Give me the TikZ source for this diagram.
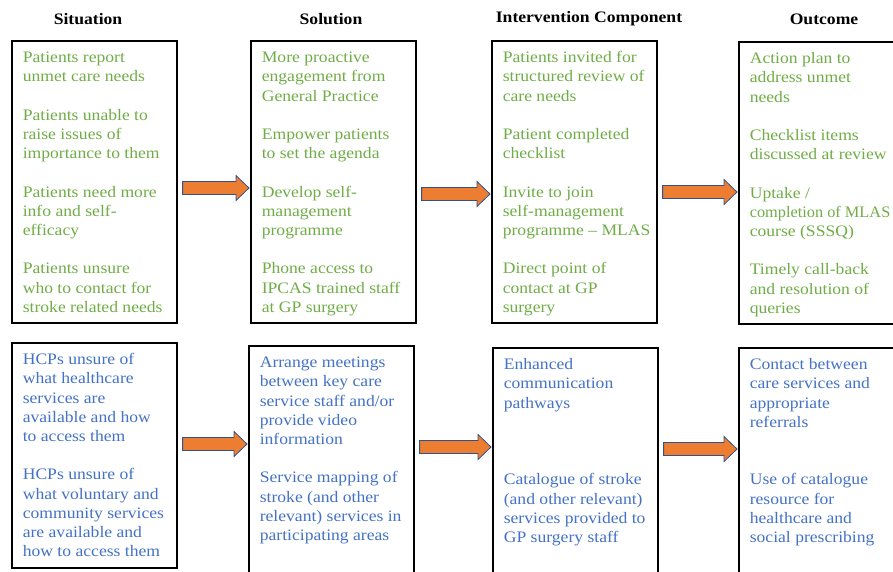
\documentclass[tikz,border=0pt]{standalone}
\usepackage{fontspec}
\setmainfont[FakeStretch=1.1]{Liberation Serif}
\usepackage{xcolor}
\usepackage{tikz}
\usetikzlibrary{arrows.meta, positioning, calc}
\definecolor{textgreen}{HTML}{70AD47}
\definecolor{textblue}{HTML}{4472C4}
\definecolor{flowfill}{HTML}{ED7D31}
\definecolor{flowedge}{HTML}{2F528F}

% text block inside a box, top aligned on a fixed line grid
\newcommand{\cellbody}[2]{%
  \begin{minipage}[t][#1][t]{165pt}
    \vspace*{8.5pt}\raggedright\leftskip=11pt
    \fontsize{16}{19.2}\selectfont\setlength{\parskip}{19.2pt}%
    \strut #2
  \end{minipage}}

% block arrow from one box to the next at height #3
\newcommand{\flowarrow}[3]{%
  \draw[flow] let \p1=(#1.east), \p2=(#2.west), \p3=(0,#3) in
    (\x1+5pt,\y3+6.5pt) -- (\x2-14pt,\y3+6.5pt) -- (\x2-14pt,\y3+12.5pt)
    -- (\x2-1pt,\y3) -- (\x2-14pt,\y3-12.5pt) -- (\x2-14pt,\y3-6.5pt)
    -- (\x1+5pt,\y3-6.5pt) -- cycle;}

\tikzset{
  cellbox/.style={draw=black, line width=1.6pt, inner sep=0pt, anchor=north west},
  greencell/.style={cellbox, text=textgreen},
  bluecell/.style={cellbox, text=textblue},
  colhead/.style={font=\fontsize{16}{19}\selectfont\bfseries, text=black},
  flow/.style={fill=flowfill, draw=flowedge, line width=0.8pt, line join=miter}
}

\begin{document}
\begin{tikzpicture}[x=1pt, y=-1pt]
    \fill[white] (0,0) rectangle (893,571);
    \useasboundingbox (0,0) rectangle (893,571);

    % column headings
    \node[colhead] (hsit) at (88,19) {Situation};
    \node[colhead] (hsol) at (331,19) {Solution};
    \node[colhead] (hint) at (589,19) {Intervention Component};
    \node[colhead] (hout) at (824,19) {Outcome};

    % patient row
    \node[greencell] (sit1) at (11,40) {\cellbody{282pt}{%
      Patients report\\unmet care needs\par
      Patients unable to\\raise issues of\\importance to them\par
      Patients need more\\info and self-\\efficacy\par
      Patients unsure\\who to contact for\\stroke related needs}};
    \node[greencell] (sol1) at (250,40) {\cellbody{282pt}{%
      More proactive\\engagement from\\General Practice\par
      Empower patients\\to set the agenda\par
      Develop self-\\management\\programme\par
      Phone access to\\IPCAS trained staff\\at GP surgery}};
    \node[greencell] (int1) at (491,40) {\cellbody{282pt}{%
      Patients invited for\\structured review of\\care needs\par
      Patient completed\\checklist\par
      Invite to join\\self-management\\programme -- MLAS\par
      Direct point of\\contact at GP\\surgery}};
    \node[greencell] (out1) at (738,41) {\cellbody{282pt}{%
      Action plan to\\address unmet\\needs\par
      Checklist items\\discussed at review\par
      Uptake /\\{\addfontfeature{FakeStretch=1.02}completion of MLAS}\\course (SSSQ)\par
      Timely call-back\\and resolution of\\queries}};

    % healthcare professional row
    \node[bluecell] (sit2) at (11,342) {\cellbody{225pt}{%
      HCPs unsure of\\what healthcare\\services are\\available and how\\to access them\par
      HCPs unsure of\\what voluntary and\\community services\\are available and\\how to access them}};
    \node[bluecell] (sol2) at (248,345) {\cellbody{232pt}{%
      Arrange meetings\\between key care\\service staff and/or\\provide video\\information\par
      Service mapping of\\stroke (and other\\relevant) services in\\participating areas}};
    \node[bluecell] (int2) at (492,347) {\cellbody{232pt}{%
      Enhanced\\communication\\pathways\par\vspace{38.4pt}
      Catalogue of stroke\\(and other relevant)\\services provided to\\GP surgery staff}};
    \node[bluecell] (out2) at (738,347) {\cellbody{232pt}{%
      Contact between\\care services and\\appropriate\\referrals\par\vspace{19.2pt}
      Use of catalogue\\resource for\\healthcare and\\social prescribing}};

    % arrows between columns
    \flowarrow{sit1}{sol1}{188}
    \flowarrow{sol1}{int1}{194}
    \flowarrow{int1}{out1}{192}
    \flowarrow{sit2}{sol2}{444}
    \flowarrow{sol2}{int2}{447}
    \flowarrow{int2}{out2}{449}
\end{tikzpicture}
\end{document}
